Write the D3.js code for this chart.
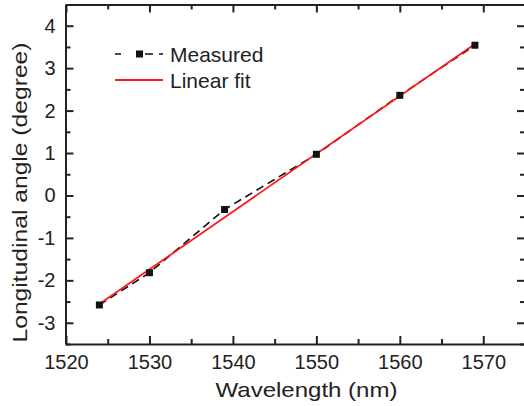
<!DOCTYPE html>
<html>
<head>
<meta charset="utf-8">
<script src="https://cdn.jsdelivr.net/npm/d3@7"></script>
<style>
  html, body { margin: 0; padding: 0; background: #ffffff; }
  svg { display: block; }
  text { font-family: Arial, "Liberation Sans", Helvetica, sans-serif; fill: #222; }
</style>
</head>
<body>
<svg id="chart" width="524" height="406"></svg>
<script>
// ---- data ----
const wavelengths = [1524, 1530, 1539, 1550, 1560, 1569];
const measuredAngles = [-2.58, -1.82, -0.33, 0.97, 2.36, 3.54];
const fitWavelengths = [1524, 1569];
const fitAngles = [-2.56, 3.57];
const xTickValues = [1520, 1530, 1540, 1550, 1560, 1570];
const yTickValues = [-3, -2, -1, 0, 1, 2, 3, 4];
const seriesNames = ["Measured", "Linear fit"];
const xTitle = "Wavelength (nm)";
const yTitle = "Longitudinal angle (degree)";

const svg = d3.select("#chart");
const mLeft = 65.5, mRight = 525, mTop = 4.5, mBottom = 344;

const x = d3.scaleLinear().domain([1520, 1575]).range([mLeft + 0.5, mRight]);
const y = d3.scaleLinear().domain([-3.5, 4.5]).range([mBottom, mTop]);

const ink = "#222";
const xMinor = d3.range(1525, 1576, 10);
const yMinor = d3.range(-3.5, 4.6, 1);
const fmt = d => String(d);  // plain hyphen-minus as in the reference

function styleAxis(g) {
  g.selectAll("path.domain").attr("stroke", ink).attr("stroke-width", 2);
  g.selectAll(".tick line").attr("stroke", ink).attr("stroke-width", 2);
}

// bottom axis (major, labelled)
const gB = svg.append("g").attr("transform", `translate(0,${mBottom})`)
  .call(d3.axisBottom(x).tickValues(xTickValues).tickSize(-8).tickSizeOuter(0).tickPadding(11).tickFormat(fmt));
styleAxis(gB);
gB.selectAll(".tick text").attr("font-size", 20).attr("fill", ink).attr("font-family", "Arial, 'Liberation Sans', sans-serif");
svg.append("g").attr("transform", `translate(0,${mBottom})`)
  .call(d3.axisBottom(x).tickValues(xMinor).tickSize(-5).tickSizeOuter(0).tickFormat(""))
  .call(g => { g.select(".domain").remove(); styleAxis(g); });

// top axis
const gT = svg.append("g").attr("transform", `translate(0,${mTop})`)
  .call(d3.axisTop(x).tickValues(xTickValues).tickSize(-8).tickSizeOuter(0).tickFormat(""));
styleAxis(gT);
svg.append("g").attr("transform", `translate(0,${mTop})`)
  .call(d3.axisTop(x).tickValues(xMinor).tickSize(-5).tickSizeOuter(0).tickFormat(""))
  .call(g => { g.select(".domain").remove(); styleAxis(g); });

// left axis
const gL = svg.append("g").attr("transform", `translate(${mLeft},0)`)
  .call(d3.axisLeft(y).tickValues(yTickValues).tickSize(-8).tickSizeOuter(0).tickPadding(10).tickFormat(fmt));
styleAxis(gL);
gL.selectAll(".tick text").attr("font-size", 20).attr("fill", ink).attr("font-family", "Arial, 'Liberation Sans', sans-serif");
svg.append("g").attr("transform", `translate(${mLeft},0)`)
  .call(d3.axisLeft(y).tickValues(yMinor).tickSize(-5).tickSizeOuter(0).tickFormat(""))
  .call(g => { g.select(".domain").remove(); styleAxis(g); });

// right axis
const gR = svg.append("g").attr("transform", `translate(${mRight},0)`)
  .call(d3.axisRight(y).tickValues(yTickValues).tickSize(-8).tickSizeOuter(0).tickFormat(""));
styleAxis(gR);
svg.append("g").attr("transform", `translate(${mRight},0)`)
  .call(d3.axisRight(y).tickValues(yMinor).tickSize(-5).tickSizeOuter(0).tickFormat(""))
  .call(g => { g.select(".domain").remove(); styleAxis(g); });

// measured dashed line
const line = d3.line().x(d => x(d[0])).y(d => y(d[1]));
const measured = wavelengths.map((w, i) => [w, measuredAngles[i]]);
svg.append("path").datum(measured).attr("d", line)
  .attr("fill", "none").attr("stroke", "#111").attr("stroke-width", 1.6)
  .attr("stroke-dasharray", "8,5");

// fit line
const fit = fitWavelengths.map((w, i) => [w, fitAngles[i]]);
svg.append("path").datum(fit).attr("d", line)
  .attr("fill", "none").attr("stroke", "#ff1a1a").attr("stroke-width", 1.8);

// markers
svg.append("g").selectAll("rect").data(measured).join("rect")
  .attr("x", d => x(d[0]) - 3.5).attr("y", d => y(d[1]) - 3.5)
  .attr("width", 7).attr("height", 7).attr("fill", "#111");

// legend
const lg = svg.append("g");
lg.append("line").attr("x1", 115).attr("x2", 163).attr("y1", 54).attr("y2", 54)
  .attr("stroke", "#111").attr("stroke-width", 1.6).attr("stroke-dasharray", "6,11,0,13,8");
lg.append("rect").attr("x", 136).attr("y", 50.5).attr("width", 7).attr("height", 7).attr("fill", "#111");
lg.append("text").attr("x", 170).attr("y", 61.5).attr("font-size", 21).text(seriesNames[0]);
lg.append("line").attr("x1", 115).attr("x2", 163).attr("y1", 80).attr("y2", 80)
  .attr("stroke", "#ff1a1a").attr("stroke-width", 1.8);
lg.append("text").attr("x", 170).attr("y", 87.5).attr("font-size", 21).text(seriesNames[1]);

// axis titles
svg.append("text").attr("x", 306.5).attr("y", 397).attr("text-anchor", "middle")
  .attr("font-size", 21).attr("textLength", 182).attr("lengthAdjust", "spacingAndGlyphs").text(xTitle);
svg.append("text").attr("transform", "translate(27,192.5) rotate(-90)").attr("text-anchor", "middle")
  .attr("font-size", 21).attr("textLength", 300).attr("lengthAdjust", "spacingAndGlyphs").text(yTitle);
</script>
</body>
</html>
